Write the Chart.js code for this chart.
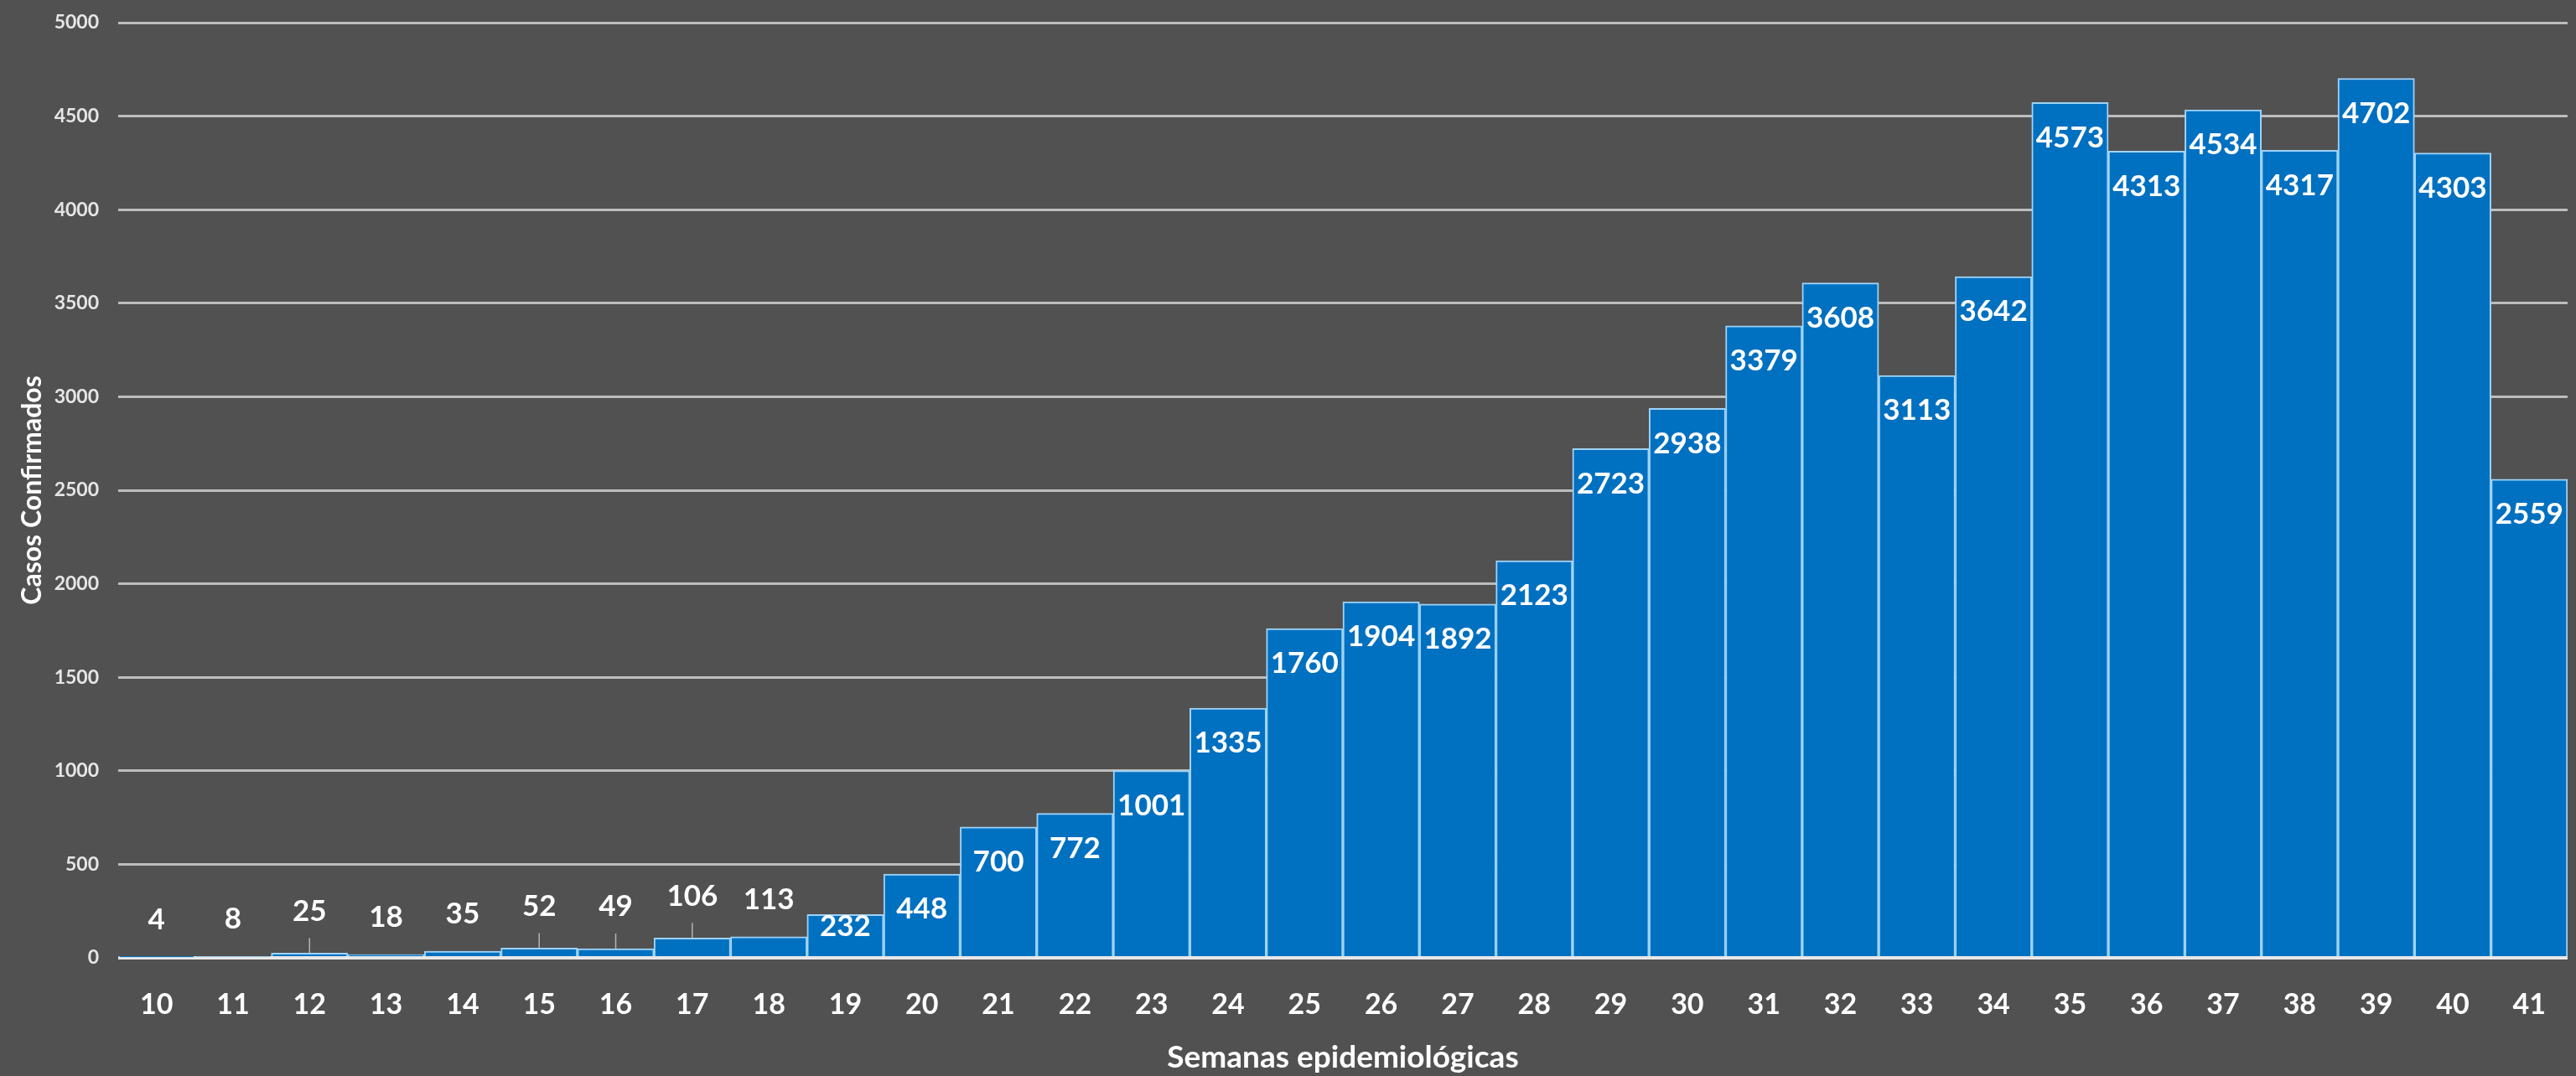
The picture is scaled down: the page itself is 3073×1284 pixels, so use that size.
<!DOCTYPE html>
<html>
<head>
<meta charset="utf-8">
<title>Casos Confirmados por semana epidemiológica</title>
<script src="https://cdn.jsdelivr.net/npm/chart.js@4.4.0/dist/chart.umd.min.js"></script>
<style>
  html, body { margin: 0; padding: 0; background: #515151; }
  #myBarChart { display: block; }
</style>
</head>
<body>
<canvas id="myBarChart" width="3073" height="1284"></canvas>
<script>
var weeks = ['10', '11', '12', '13', '14', '15', '16', '17', '18', '19', '20',
             '21', '22', '23', '24', '25', '26', '27', '28', '29', '30',
             '31', '32', '33', '34', '35', '36', '37', '38', '39', '40', '41'];
var cases = [4, 8, 25, 18, 35, 52, 49, 106, 113, 232, 448,
             700, 772, 1001, 1335, 1760, 1904, 1892, 2123, 2723, 2938,
             3379, 3608, 3113, 3642, 4573, 4313, 4534, 4317, 4702, 4303, 2559];
// weeks whose small label has a little leader line down to the bar
var leaderWeeks = ['12', '15', '16', '17'];
var yMax = 5000;
var yStep = 500;

var fontFamily = "Lato, 'Open Sans', sans-serif";

// value labels: inside the top of big bars, above the small ones
var barLabels = {
    id: 'barLabels',
    afterDatasetsDraw: function(chart) {
        var ctx = chart.ctx;
        var bars = chart.getDatasetMeta(0).data;
        ctx.save();
        ctx.font = 'bold 35px ' + fontFamily;
        ctx.fillStyle = '#ffffff';
        ctx.textAlign = 'center';
        ctx.textBaseline = 'middle';
        bars.forEach(function(bar, i) {
            var value = cases[i];
            var height = bar.base - bar.y;
            var y;
            if (value >= 200) {
                y = bar.y + Math.min(42, height - 35);
            } else if (leaderWeeks.indexOf(weeks[i]) >= 0) {
                ctx.strokeStyle = '#b4b4b4';
                ctx.lineWidth = 1.5;
                ctx.beginPath();
                ctx.moveTo(bar.x, bar.y - 18);
                ctx.lineTo(bar.x, bar.y);
                ctx.stroke();
                y = bar.y - 50;
            } else {
                y = bar.y - 44;
            }
            ctx.fillText(String(value), bar.x, y);
        });
        ctx.restore();
    }
};

function populateBarChart(chartId) {
    const ctx = document.getElementById(chartId).getContext('2d');
    var myChart = new Chart(ctx, {
        type: 'bar',
        data: {
            labels: weeks,
            datasets: [{
                label: 'Casos Confirmados',
                data: cases,
                backgroundColor: '#0070c0',
                borderColor: '#9fd3f8',
                borderWidth: 2,
                borderSkipped: 'start',
                categoryPercentage: 1,
                barPercentage: 1
            }]
        },
        options: {
            responsive: false,
            animation: false,
            devicePixelRatio: 1,
            layout: {
                padding: { top: 27, right: 0, bottom: 0, left: 0 }
            },
            plugins: {
                legend: { display: false },
                title: { display: false },
                tooltip: { enabled: false }
            },
            scales: {
                x: {
                    grid: { display: false, drawTicks: false },
                    border: { display: false },
                    ticks: {
                        color: '#ffffff',
                        font: { family: fontFamily, size: 34, weight: 'bold' },
                        padding: 36,
                        maxRotation: 0,
                        autoSkip: false
                    },
                    title: {
                        display: true,
                        text: 'Semanas epidemiológicas',
                        color: '#ffffff',
                        font: { family: fontFamily, size: 37, weight: 'bold', lineHeight: 1 },
                        padding: { top: 0, bottom: 3 }
                    },
                    afterFit: function(scale) { scale.height = 141; }
                },
                y: {
                    min: 0,
                    max: yMax,
                    ticks: {
                        stepSize: yStep,
                        color: '#e6e6e6',
                        font: { family: fontFamily, size: 23, weight: 'bold' },
                        padding: 23,
                        callback: function(value) { return String(value); }
                    },
                    grid: {
                        drawTicks: false,
                        color: function(c) { return c.tick && c.tick.value === 0 ? '#e8e8e8' : '#bdbdbd'; },
                        lineWidth: function(c) { return c.tick && c.tick.value === 0 ? 4 : 3; }
                    },
                    border: { display: false },
                    title: {
                        display: true,
                        text: 'Casos Confirmados',
                        color: '#ffffff',
                        font: { family: fontFamily, size: 32, weight: 'bold', lineHeight: 1 },
                        padding: { top: 23, bottom: 0 }
                    },
                    afterFit: function(scale) {
                        scale.width = 141;
                        scale.paddingTop = 14;
                        scale.paddingBottom = 0;
                    }
                }
            }
        },
        plugins: [barLabels]
    });
}

populateBarChart('myBarChart');
</script>
</body>
</html>
